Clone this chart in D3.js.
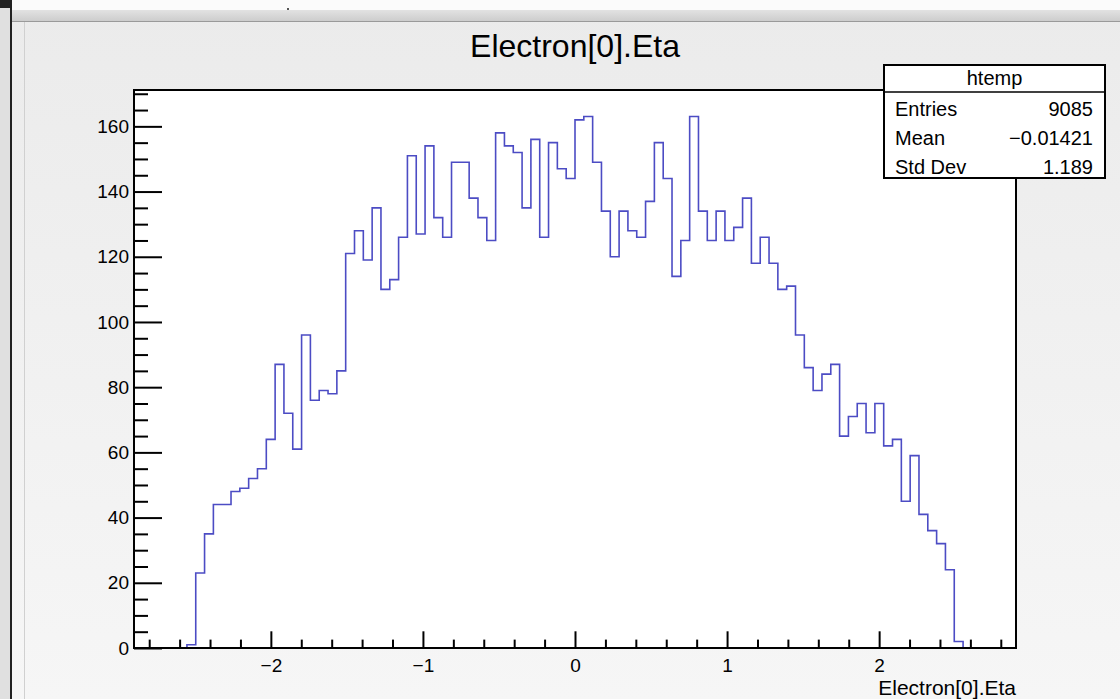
<!DOCTYPE html>
<html>
<head>
<meta charset="utf-8">
<script src="https://cdn.jsdelivr.net/npm/d3@7"></script>
<style>
  html, body { margin: 0; padding: 0; background: #ffffff; }
  svg { display: block; }
  text { font-family: "Liberation Sans", Arial, Helvetica, sans-serif; }
</style>
</head>
<body>
<script>
// ---------------- data ----------------
const histName = "htemp";
const chartTitle = "Electron[0].Eta";
const xAxisTitle = "Electron[0].Eta";
const xRange = [-2.9, 2.9];          // histogram range, 100 bins
const yMax = 171.15;                 // 1.05 * max bin content
const counts = [
  0, 0, 0, 0, 0, 0, 1, 23, 35, 44,
  44, 48, 49, 52, 55, 64, 87, 72, 61, 96,
  76, 79, 78, 85, 121, 128, 119, 135, 110, 113,
  126, 151, 127, 154, 132, 126, 149, 149, 138, 132,
  125, 158, 154, 152, 135, 156, 126, 155, 147, 144,
  162, 163, 149, 134, 120, 134, 128, 126, 137, 155,
  144, 114, 125, 163, 134, 125, 134, 125, 129, 138,
  118, 126, 118, 110, 111, 96, 86, 79, 84, 87,
  65, 71, 75, 66, 75, 62, 64, 45, 59, 41,
  36, 32, 24, 2, 0, 0, 0, 0, 0, 0
];
const xMajorTicks = [-2, -1, 0, 1, 2];
const xMinorTicks = [-2.8, -2.6, -2.4, -2.2, -1.8, -1.6, -1.4, -1.2, -0.8, -0.6, -0.4, -0.2,
                     0.2, 0.4, 0.6, 0.8, 1.2, 1.4, 1.6, 1.8, 2.2, 2.4, 2.6, 2.8];
const yMajorTicks = [0, 20, 40, 60, 80, 100, 120, 140, 160];
const yMinorTicks = [5, 10, 15, 25, 30, 35, 45, 50, 55, 65, 70, 75, 85, 90, 95,
                     105, 110, 115, 125, 130, 135, 145, 150, 155, 165, 170];
const statLabels = ["Entries", "Mean", "Std Dev"];
const statValues = ["9085", "\u22120.01421", "1.189"];

// ---------------- layout ----------------
const W = 1120, H = 699;
const frame = { left: 134, right: 1016, top: 90, bottom: 648 };

const svg = d3.select("body").append("svg").attr("width", W).attr("height", H);

// canvas background gradient
const defs = svg.append("defs");
const g1 = defs.append("linearGradient").attr("id", "bg").attr("x1", 0).attr("y1", 0).attr("x2", 0).attr("y2", 1);
g1.append("stop").attr("offset", "0%").attr("stop-color", "#ebebeb");
g1.append("stop").attr("offset", "100%").attr("stop-color", "#f6f6f6");
const g2 = defs.append("linearGradient").attr("id", "bar").attr("x1", 0).attr("y1", 0).attr("x2", 0).attr("y2", 1);
g2.append("stop").attr("offset", "0%").attr("stop-color", "#e2e2e2");
g2.append("stop").attr("offset", "100%").attr("stop-color", "#cdcdcd");

svg.append("rect").attr("x", 0).attr("y", 0).attr("width", W).attr("height", H).attr("fill", "url(#bg)");
// window chrome
svg.append("rect").attr("x", 0).attr("y", 0).attr("width", W).attr("height", 10).attr("fill", "#fbfbfb");
svg.append("rect").attr("x", 0).attr("y", 10).attr("width", W).attr("height", 11).attr("fill", "url(#bar)");
svg.append("line").attr("x1", 0).attr("x2", W).attr("y1", 21.5).attr("y2", 21.5).attr("stroke", "#9a9a9a").attr("stroke-width", 1);
svg.append("rect").attr("x", 0).attr("y", 0).attr("width", 10).attr("height", H).attr("fill", "#e0e0e0");
svg.append("line").attr("x1", 11).attr("x2", 11).attr("y1", 0).attr("y2", H).attr("stroke", "#222").attr("stroke-width", 2);
svg.append("line").attr("x1", 24.5).attr("x2", 24.5).attr("y1", 22).attr("y2", H).attr("stroke", "#d0d0d0").attr("stroke-width", 1);
svg.append("rect").attr("x", 0).attr("y", 0).attr("width", 10).attr("height", 8).attr("fill", "#222");
svg.append("rect").attr("x", 287).attr("y", 8).attr("width", 2).attr("height", 2).attr("fill", "#555");

// plot frame fill
svg.append("rect")
  .attr("x", frame.left).attr("y", frame.top)
  .attr("width", frame.right - frame.left).attr("height", frame.bottom - frame.top)
  .attr("fill", "#ffffff");

// scales
const x = d3.scaleLinear().domain(xRange).range([frame.left, frame.right]);
const y = d3.scaleLinear().domain([0, yMax]).range([frame.bottom, frame.top]);

// histogram step path
const nb = counts.length;
const bw = (xRange[1] - xRange[0]) / nb;
const pts = [[xRange[0], 0]];
counts.forEach((c, i) => {
  const lo = xRange[0] + i * bw, hi = lo + bw;
  pts.push([lo, c]); pts.push([hi, c]);
});
pts.push([xRange[1], 0]);
const line = d3.line().x(d => x(d[0])).y(d => y(d[1]));
svg.append("path").attr("d", line(pts))
  .attr("fill", "none").attr("stroke", "#4c4cc4").attr("stroke-width", 1.6)
  .attr("stroke-linejoin", "miter");

// axes
const fontSz = 19;
const yAxisMajor = d3.axisLeft(y).tickValues(yMajorTicks).tickSize(-28).tickSizeOuter(0).tickPadding(5).tickFormat(d3.format("d"));
const yAxisMinor = d3.axisLeft(y).tickValues(yMinorTicks).tickSize(-14).tickSizeOuter(0).tickFormat("");
const xAxisMajor = d3.axisBottom(x).tickValues(xMajorTicks).tickSize(-16.7).tickSizeOuter(0).tickPadding(11).tickFormat(d3.format("d"));
const xAxisMinor = d3.axisBottom(x).tickValues(xMinorTicks).tickSize(-8.4).tickSizeOuter(0).tickFormat("");

function styleAxis(g) {
  g.select(".domain").remove();
  g.selectAll("line").attr("stroke", "#000").attr("stroke-width", 2);
  g.selectAll("text").attr("fill", "#000").style("font-size", fontSz + "px")
    .style("font-family", "'Liberation Sans', Arial, sans-serif");
}
svg.append("g").attr("transform", `translate(${frame.left},0)`).call(yAxisMinor).call(styleAxis);
svg.append("g").attr("transform", `translate(${frame.left},0)`).call(yAxisMajor).call(styleAxis);
svg.append("g").attr("transform", `translate(0,${frame.bottom})`).call(xAxisMinor).call(styleAxis);
svg.append("g").attr("transform", `translate(0,${frame.bottom})`).call(xAxisMajor).call(styleAxis);

// frame border
svg.append("rect")
  .attr("x", frame.left).attr("y", frame.top)
  .attr("width", frame.right - frame.left).attr("height", frame.bottom - frame.top)
  .attr("fill", "none").attr("stroke", "#000").attr("stroke-width", 2);

// title
svg.append("text").attr("x", 575).attr("y", 57).attr("text-anchor", "middle")
  .style("font-size", "32px").attr("fill", "#000").text(chartTitle);

// x axis title
svg.append("text").attr("x", frame.right).attr("y", 695).attr("text-anchor", "end")
  .style("font-size", "21px").attr("fill", "#000").text(xAxisTitle);

// stats box
const box = { x: 884, y: 65, w: 221, h: 113, headerH: 27 };
svg.append("rect").attr("x", box.x).attr("y", box.y).attr("width", box.w).attr("height", box.h)
  .attr("fill", "#fff").attr("stroke", "#000").attr("stroke-width", 2);
svg.append("line").attr("x1", box.x).attr("x2", box.x + box.w)
  .attr("y1", box.y + box.headerH).attr("y2", box.y + box.headerH)
  .attr("stroke", "#000").attr("stroke-width", 1.5);
svg.append("text").attr("x", box.x + box.w / 2).attr("y", box.y + 20).attr("text-anchor", "middle")
  .style("font-size", "20px").attr("fill", "#000").text(histName);
const rowY = d3.scalePoint().domain(statLabels).range([115.5, 173.5]);
statLabels.forEach((lab, i) => {
  svg.append("text").attr("x", box.x + 11).attr("y", rowY(lab))
    .style("font-size", "20px").attr("fill", "#000").text(lab);
  svg.append("text").attr("x", box.x + box.w - 12).attr("y", rowY(lab)).attr("text-anchor", "end")
    .style("font-size", "20px").attr("fill", "#000").text(statValues[i]);
});
</script>
</body>
</html>
